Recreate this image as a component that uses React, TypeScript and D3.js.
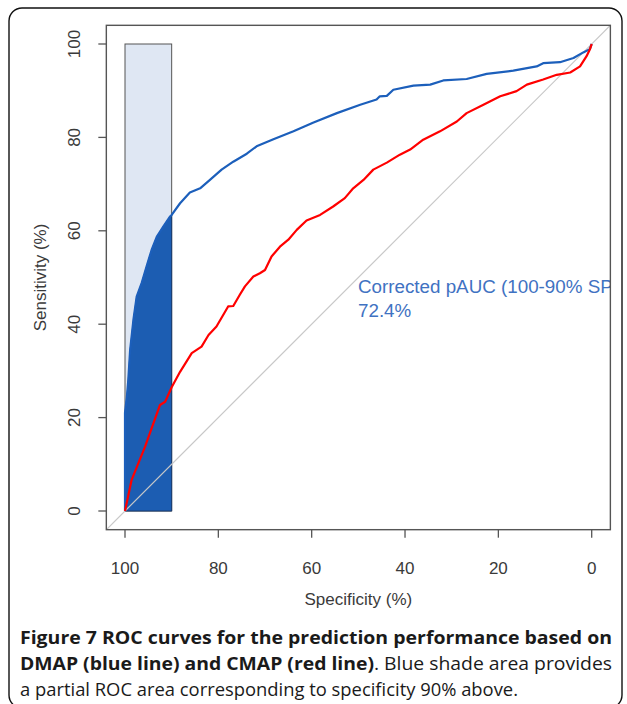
import React from 'react';
import * as d3 from 'd3';

// axis ticks
const xTicks = [100, 80, 60, 40, 20, 0];
const yTicks = [0, 20, 40, 60, 80, 100];

// DMAP (blue) ROC curve, specificity / sensitivity in %
const dmapSpec = [100, 100, 99.6, 99.3, 98.9, 98.2, 97.5, 96.4, 95.4, 94.3, 93.2, 91.8, 90.4, 90, 88.2, 86.1, 83.9, 81.8, 79.3, 76.8, 73.9, 71.8, 68.2, 63.9, 59.6, 54.6, 49.6, 46.1, 45.4, 43.9, 42.5, 38.2, 34.6, 31.8, 26.8, 22.5, 16.8, 11.8, 10.4, 6.8, 3.9, 1.8, 0.4, 0];
const dmapSens = [0, 21, 24.4, 28, 34.5, 40.9, 45.9, 48.9, 52.3, 55.9, 58.7, 60.9, 63, 63.4, 65.9, 68.2, 69.1, 70.9, 73.1, 74.8, 76.5, 78.1, 79.6, 81.3, 83.2, 85.2, 87, 88.1, 88.8, 88.9, 90.2, 91.1, 91.3, 92.2, 92.5, 93.6, 94.3, 95.2, 95.9, 96.1, 97, 98.2, 98.9, 100];

// CMAP (red) ROC curve
const cmapSpec = [100, 98.6, 95.7, 92.5, 91.4, 90, 88.2, 85.7, 83.6, 82.1, 80.4, 77.9, 76.8, 75.4, 74.3, 72.5, 71.1, 70, 68.6, 66.8, 65, 63.2, 61.1, 58.2, 55.4, 52.9, 51.1, 48.9, 46.8, 43.9, 41.1, 38.9, 36.1, 32.5, 28.9, 26.8, 23.2, 19.6, 16.1, 13.9, 10.4, 7.5, 4.6, 2.5, 1.1, 0.4, 0];
const cmapSens = [0, 6.6, 13.8, 22.7, 23.4, 26.5, 29.8, 33.8, 35.2, 37.7, 39.5, 43.8, 43.9, 46.3, 48.1, 50.2, 50.9, 51.6, 54.5, 56.6, 58.1, 60.2, 62.2, 63.4, 65.2, 67, 69.1, 70.9, 73.1, 74.6, 76.3, 77.4, 79.5, 81.3, 83.4, 85.2, 87, 88.8, 89.9, 91.3, 92.4, 93.4, 93.9, 95.2, 97.4, 98.8, 100];

// partial AUC range and label
const pAucRange = [100, 90];
const pAucLines = ['Corrected pAUC (100-90% SP):', '72.4%'];

const axisFont = '"Liberation Sans", Arial, sans-serif';
const capFont = '"Open Sans", "DejaVu Sans", sans-serif';

const App = () => {
  const x = d3.scaleLinear().domain([100, 0]).range([125, 591.7]);
  const y = d3.scaleLinear().domain([0, 100]).range([511, 44]);

  const bx0 = x(104), bx1 = x(-4), by0 = y(104), by1 = y(-4);

  const dmap = dmapSpec.map((s, i) => [s, dmapSens[i]] as [number, number]);
  const cmap = cmapSpec.map((s, i) => [s, cmapSens[i]] as [number, number]);

  const line = d3.line<[number, number]>().x(d => x(d[0])).y(d => y(d[1]));

  const [hi, lo] = pAucRange;
  const polyPts: [number, number][] = [
    ...dmap.filter(d => d[0] <= hi && d[0] >= lo),
    [lo, 0],
    [hi, 0],
  ];

  return (
    <svg width={627} height={704} style={{ position: 'absolute', left: 0, top: 0, background: '#fff' }}>
      <defs>
        <clipPath id="plotClip">
          <rect x={bx0} y={by0} width={bx1 - bx0} height={by1 - by0} />
        </clipPath>
      </defs>

      {/* outer frame */}
      <rect x={9} y={8} width={613} height={700} rx={13} fill="none" stroke="#111" strokeWidth={1.4} />

      <g clipPath="url(#plotClip)">
        {/* max pAUC rectangle */}
        <rect x={x(hi)} y={y(100)} width={x(lo) - x(hi)} height={y(0) - y(100)}
          fill="#dfe7f3" stroke="#555" strokeWidth={1} />
        {/* pAUC polygon */}
        <path d={line(polyPts) + 'Z'} fill="#1c5db2" stroke="#1a3c6e" strokeWidth={1} />
        {/* identity line */}
        <line x1={x(104)} y1={y(-4)} x2={x(-4)} y2={y(104)} stroke="#c8c8c8" strokeWidth={1.2} />
        <path d={line(dmap) || ''} fill="none" stroke="#1c5fbb" strokeWidth={2.2} strokeLinejoin="round" />
        <path d={line(cmap) || ''} fill="none" stroke="#ff0000" strokeWidth={2.2} strokeLinejoin="round" />
        {pAucLines.map((t, i) => (
          <text key={i} x={358} y={293 + i * 24} fontFamily={axisFont} fontSize={18.8} fill="#3f72c2">{t}</text>
        ))}
      </g>

      {/* box */}
      <rect x={bx0} y={by0} width={bx1 - bx0} height={by1 - by0} fill="none" stroke="#555" strokeWidth={1.4} />

      {/* x axis */}
      <g fontFamily={axisFont} fontSize={17} fill="#3a3a3a">
        {xTicks.map(t => (
          <g key={t}>
            <line x1={x(t)} x2={x(t)} y1={by1} y2={by1 + 8} stroke="#555" strokeWidth={1.3} />
            <text x={x(t)} y={574} textAnchor="middle">{t}</text>
          </g>
        ))}
        <text x={(x(100) + x(0)) / 2} y={605} textAnchor="middle">Specificity (%)</text>
      </g>

      {/* y axis */}
      <g fontFamily={axisFont} fontSize={17} fill="#3a3a3a">
        {yTicks.map(t => (
          <g key={t}>
            <line x1={bx0 - 8} x2={bx0} y1={y(t)} y2={y(t)} stroke="#555" strokeWidth={1.3} />
            <text transform={`translate(80,${y(t)}) rotate(-90)`} textAnchor="middle">{t}</text>
          </g>
        ))}
        <text transform={`translate(46,${(y(0) + y(100)) / 2}) rotate(-90)`} textAnchor="middle">Sensitivity (%)</text>
      </g>

      {/* caption */}
      <g fontFamily={capFont} fontSize={18.2} fill="#1a1a1a">
        <text x={20} y={644} textLength={592} lengthAdjust="spacingAndGlyphs" fontWeight="bold">
          Figure 7 ROC curves for the prediction performance based on
        </text>
        <text x={20} y={670} textLength={592} lengthAdjust="spacingAndGlyphs">
          <tspan fontWeight="bold">DMAP (blue line) and CMAP (red line)</tspan>
          <tspan>. Blue shade area provides</tspan>
        </text>
        <text x={20} y={696} textLength={498} lengthAdjust="spacingAndGlyphs">a partial ROC area corresponding to specificity 90% above.</text>
      </g>
    </svg>
  );
};

export default App;
